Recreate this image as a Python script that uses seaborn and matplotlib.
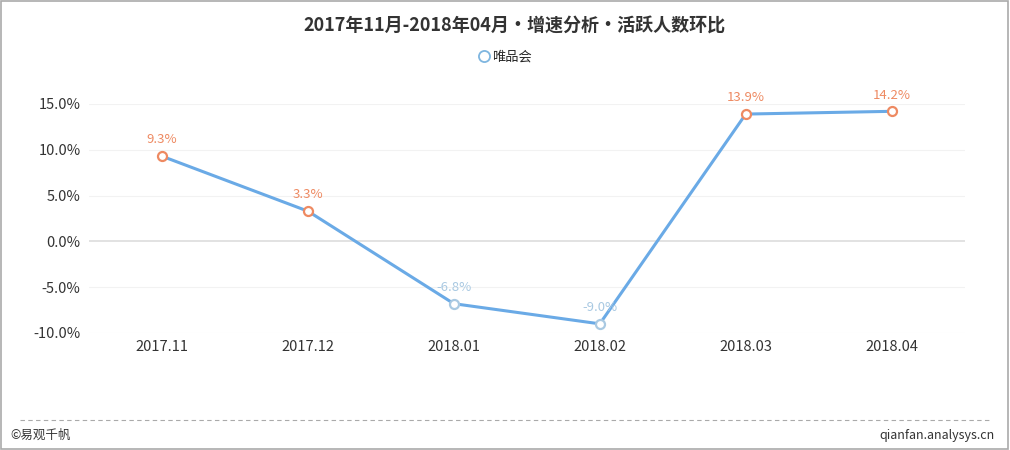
import matplotlib
matplotlib.use("Agg")
import matplotlib.pyplot as plt
import seaborn as sns
import pandas as pd
from matplotlib.lines import Line2D
from matplotlib.patches import Rectangle

months = ["2017.11", "2017.12", "2018.01", "2018.02", "2018.03", "2018.04"]
growth = [9.3, 3.3, -6.8, -9.0, 13.9, 14.2]
yticks = [-10, -5, 0, 5, 10, 15]
series_name = "唯品会"
title = "2017年11月-2018年04月・增速分析・活跃人数环比"

sns.set_theme(style="white")
plt.rcParams['font.family'] = ['Noto Sans CJK SC', 'DejaVu Sans']

line_color = "#6aaae6"
pos_color = "#ee8a62"
neg_color = "#a9c9e2"

df = pd.DataFrame({"month": months, "growth": growth})
df["x"] = range(len(months))

fig = plt.figure(figsize=(10.1, 4.5), dpi=100)
ax = fig.add_axes([0.0881, 0.26, 0.867, 0.5089])

sns.lineplot(data=df, x="x", y="growth", ax=ax, color=line_color, linewidth=2.2, legend=False)
for xi, yi in zip(df["x"], df["growth"]):
    c = pos_color if yi >= 0 else neg_color
    ax.plot([xi], [yi], marker="o", markersize=6.5, markerfacecolor="white",
            markeredgecolor=c, markeredgewidth=1.6, zorder=5)
    ax.annotate(f"{yi:.1f}%", (xi, yi), xytext=(0, 7), textcoords="offset points",
                ha="center", va="bottom", fontsize=9.5, color=c)

ax.set_xlim(-0.5, len(months) - 0.5)
ax.set_ylim(-10, 15)
ax.set_xticks(range(len(months)))
ax.set_xticklabels(months, fontsize=10.5, color="#333333")
ax.set_yticks(yticks)
ax.set_yticklabels([f"{v:.1f}%" for v in yticks], fontsize=10.5, color="#333333")
ax.tick_params(axis="x", length=0, pad=5)
ax.tick_params(axis="y", length=0, pad=6)
for v in yticks:
    ax.axhline(v, color="#dddddd" if v == 0 else "#f2f2f2", linewidth=1.2 if v == 0 else 0.8, zorder=0)
for s in ax.spines.values():
    s.set_visible(False)
ax.set_xlabel("")
ax.set_ylabel("")

fig.text(0.509, 0.942, title, ha="center", va="center", fontsize=13, fontweight="bold", color="#333333")
handle = Line2D([], [], marker="o", linestyle="none", markersize=8, markerfacecolor="white",
                markeredgecolor="#7fb6e0", markeredgewidth=1.3)
fig.legend([handle], [series_name], loc="center", bbox_to_anchor=(0.5, 0.873), frameon=False,
           fontsize=9.5, handletextpad=0.1, borderpad=0, handlelength=1.0)

fig.add_artist(Line2D([0.02, 0.98], [0.067, 0.067], transform=fig.transFigure,
                      color="#aaaaaa", linewidth=0.8, linestyle=(0, (4, 3))))
fig.text(0.01, 0.033, "©易观千帆", ha="left", va="center", fontsize=9, color="#333333")
fig.text(0.985, 0.033, "qianfan.analysys.cn", ha="right", va="center", fontsize=9, color="#333333")
fig.add_artist(Rectangle((0.001, 0.002), 0.997, 0.995, transform=fig.transFigure,
                         fill=False, edgecolor="#aaaaaa", linewidth=1.2))

fig.savefig("out.png", dpi=100, facecolor="white")
